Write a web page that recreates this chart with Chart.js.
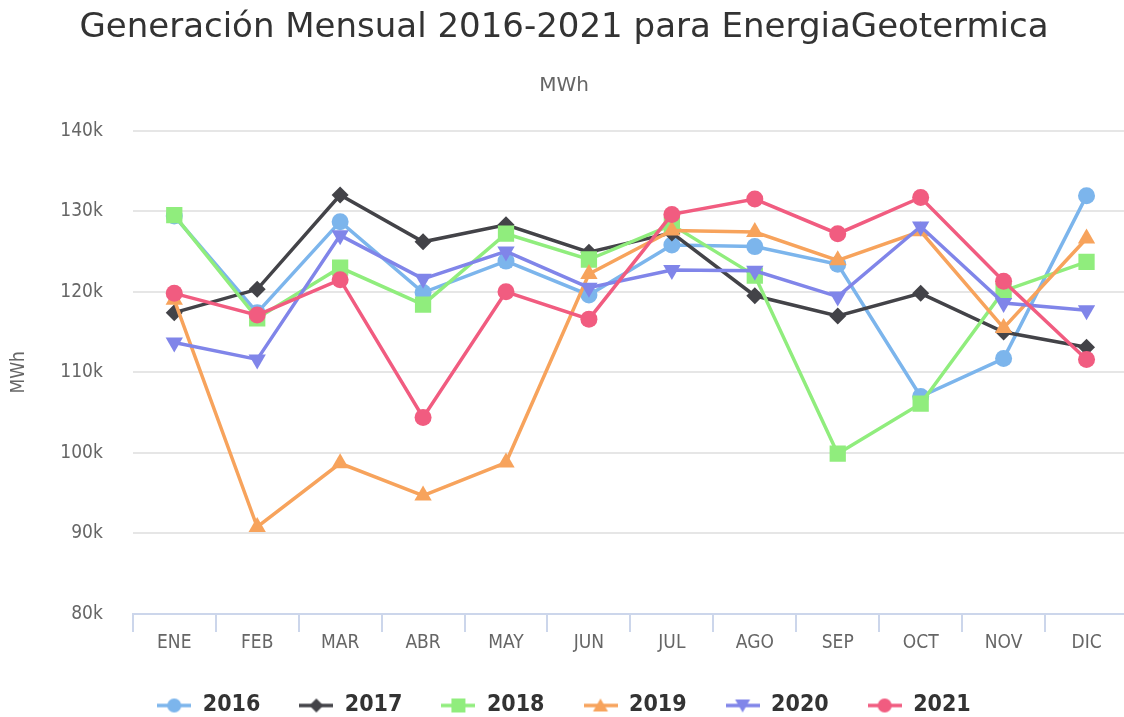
<!DOCTYPE html>
<html>
<head>
<meta charset="utf-8">
<script src="https://cdn.jsdelivr.net/npm/chart.js@4"></script>
<style>
  body { margin: 0; background: #fff; }
  #wrap { width: 1124px; height: 717px; overflow: hidden; position: relative; }
  canvas { display: block; }
</style>
</head>
<body>
<div id="wrap"><canvas id="genChart" width="1128" height="727"></canvas></div>
<script>
// data (MWh)
const months = ['ENE', 'FEB', 'MAR', 'ABR', 'MAY', 'JUN', 'JUL', 'AGO', 'SEP', 'OCT', 'NOV', 'DIC'];
const years = ['2016', '2017', '2018', '2019', '2020', '2021'];
const gen2016 = [129400, 117400, 128700, 119900, 123800, 119600, 125800, 125600, 123400, 107000, 111700, 131900];
const gen2017 = [117400, 120300, 132000, 126200, 128300, 124900, 127300, 119500, 117000, 119800, 115000, 113100];
const gen2018 = [129500, 116700, 123000, 118400, 127200, 124000, 128300, 122000, 99900, 106100, 120100, 123700];
const gen2019 = [119000, 90800, 98700, 94700, 98800, 122200, 127600, 127400, 123900, 127500, 115500, 126600];
const gen2020 = [113700, 111600, 127000, 121600, 125000, 120500, 122700, 122600, 119400, 128100, 118600, 117700];
const gen2021 = [119800, 117100, 121500, 104400, 120000, 116600, 129600, 131500, 127200, 131700, 121300, 111600];
const yTicks = [80000, 90000, 100000, 110000, 120000, 130000, 140000];

const colors = ['#7cb5ec', '#434348', '#90ed7d', '#f7a35c', '#8085e9', '#f15c80'];
const shapes = ['circle', 'diamond', 'square', 'triangle', 'triangle-down', 'circle'];
const series = [gen2016, gen2017, gen2018, gen2019, gen2020, gen2021];

const FONT = '"DejaVu Sans Condensed", "DejaVu Sans", sans-serif';
const WIDE = '"DejaVu Sans", sans-serif';
Chart.defaults.font.family = FONT;

function pointOpts(shape) {
    switch (shape) {
        case 'diamond': return {pointStyle: 'rectRot', pointRadius: 8.5, rotation: 0};
        case 'square': return {pointStyle: 'rect', pointRadius: 11.5, rotation: 0};
        case 'triangle': return {pointStyle: 'triangle', pointRadius: 10, rotation: 0};
        case 'triangle-down': return {pointStyle: 'triangle', pointRadius: 10, rotation: 180};
        default: return {pointStyle: 'circle', pointRadius: 8.5, rotation: 0};
    }
}

// legend symbol: short line with the marker on it
function legendSymbol(color, shape) {
    const c = document.createElement('canvas');
    c.width = 34; c.height = 20;
    const g = c.getContext('2d');
    g.strokeStyle = color; g.lineWidth = 3.5;
    g.beginPath(); g.moveTo(0, 10); g.lineTo(34, 10); g.stroke();
    g.fillStyle = color;
    g.beginPath();
    const x = 17, y = 10;
    if (shape === 'circle') g.arc(x, y, 7, 0, Math.PI * 2);
    else if (shape === 'square') g.rect(x - 7, y - 7, 14, 14);
    else if (shape === 'diamond') { g.moveTo(x, y - 7); g.lineTo(x + 7, y); g.lineTo(x, y + 7); g.lineTo(x - 7, y); }
    else if (shape === 'triangle') { g.moveTo(x, y - 7); g.lineTo(x + 7.5, y + 6); g.lineTo(x - 7.5, y + 6); }
    else { g.moveTo(x, y + 7); g.lineTo(x + 7.5, y - 6); g.lineTo(x - 7.5, y - 6); }
    g.closePath(); g.fill();
    return c;
}

const datasets = years.map((yr, i) => {
    const p = pointOpts(shapes[i]);
    return {
        label: yr,
        data: series[i],
        borderColor: colors[i],
        backgroundColor: colors[i],
        pointBackgroundColor: colors[i],
        pointBorderWidth: 0,
        pointStyle: p.pointStyle,
        pointRadius: p.pointRadius,
        pointRotation: p.rotation,
        borderWidth: 3.5,
        tension: 0,
        order: years.length - i
    };
});

new Chart(document.getElementById('genChart'), {
    type: 'line',
    data: { labels: months, datasets },
    options: {
        responsive: false,
        animation: false,
        devicePixelRatio: 1,
        layout: { autoPadding: false, padding: 0 },
        plugins: {
            title: {
                display: true,
                text: 'Generación Mensual 2016-2021 para EnergiaGeotermica',
                color: '#333',
                font: { family: WIDE, size: 34, weight: 'normal' },
                padding: { top: 7.6, bottom: 15.2 }
            },
            subtitle: {
                display: true,
                text: 'MWh',
                color: '#666',
                font: { family: WIDE, size: 20 },
                padding: { top: 10, bottom: 33 }
            },
            legend: {
                position: 'bottom',
                labels: {
                    usePointStyle: true,
                    pointStyleWidth: 34,
                    padding: 39,
                    color: '#333',
                    font: { size: 23, weight: 'bold' },
                    generateLabels: chart => chart.data.datasets.map((ds, i) => ({
                        text: ds.label,
                        pointStyle: legendSymbol(colors[i], shapes[i]),
                        fillStyle: colors[i],
                        strokeStyle: colors[i],
                        lineWidth: 0,
                        fontColor: '#333',
                        hidden: !chart.isDatasetVisible(i),
                        datasetIndex: i
                    }))
                }
            },
            tooltip: { enabled: false }
        },
        scales: {
            x: {
                offset: true,
                afterFit: s => { s.height = 41; },
                grid: { offset: true, drawOnChartArea: false, drawTicks: true, tickLength: 18, color: '#ccd6eb', lineWidth: 2 },
                border: { color: '#ccd6eb', width: 2 },
                ticks: { color: '#666', font: { size: 19 }, padding: 0, maxRotation: 0 }
            },
            y: {
                min: yTicks[0],
                max: yTicks[yTicks.length - 1],
                afterFit: s => { s.width = 132.8; },
                afterBuildTicks: s => { s.ticks = yTicks.map(v => ({value: v})); },
                grid: { color: '#e6e6e6', lineWidth: 2, drawTicks: false },
                border: { display: false },
                ticks: { color: '#666', font: { size: 19 }, padding: 30, callback: v => (v / 1000) + 'k' },
                title: { display: true, text: 'MWh', color: '#666', font: { size: 19 }, padding: { top: 8, bottom: 0 } }
            }
        }
    }
});
</script>
</body>
</html>
